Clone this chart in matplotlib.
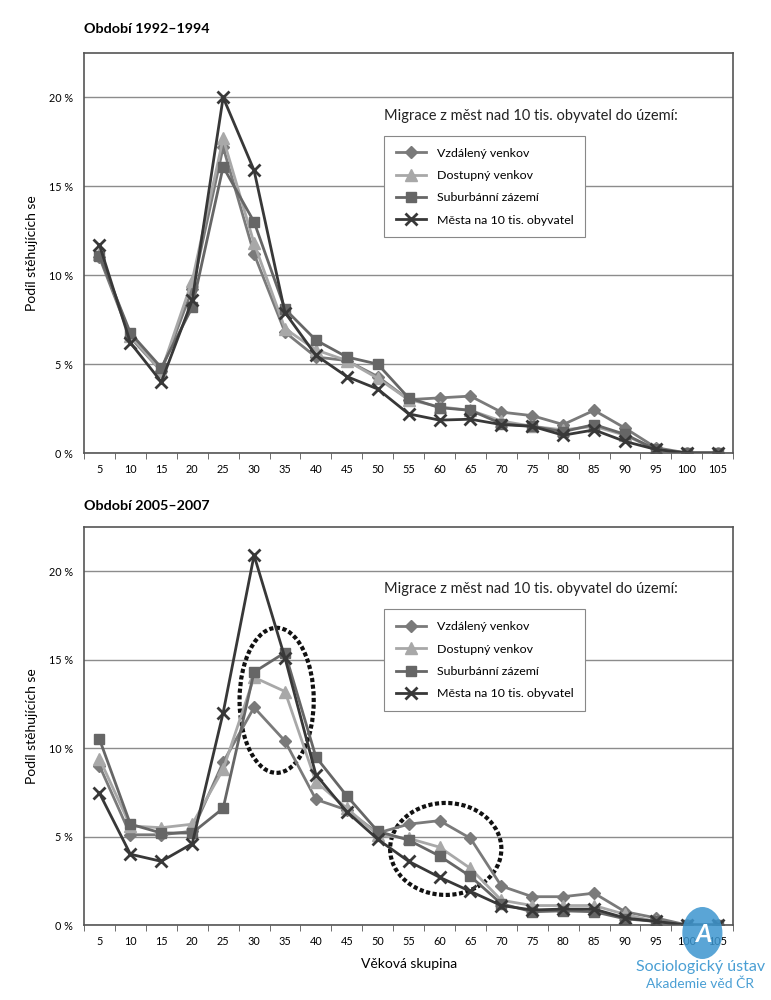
import matplotlib.pyplot as plt
from matplotlib.patches import Ellipse, Circle

plt.rcParams["font.family"] = ["Lato", "DejaVu Sans"]

age_groups = ["5", "10", "15", "20", "25", "30", "35", "40", "45", "50", "55",
              "60", "65", "70", "75", "80", "85", "90", "95", "100", "105"]

series_names = ["Vzdálený venkov", "Dostupný venkov", "Suburbánní zázemí",
                "Města na 10 tis. obyvatel"]

# Období 1992–1994 (%)
p1_vzdaleny = [11.0, 6.5, 4.6, 9.2, 17.2, 11.2, 6.8, 5.4, 5.2, 4.3, 3.0,
               3.1, 3.2, 2.3, 2.1, 1.6, 2.4, 1.4, 0.3, 0.0, 0.0]
p1_dostupny = [11.2, 6.6, 4.6, 9.7, 17.7, 11.8, 7.0, 5.8, 5.2, 4.2, 3.0,
               2.6, 2.4, 1.8, 1.5, 1.3, 1.5, 1.0, 0.2, 0.0, 0.0]
p1_suburb = [11.1, 6.75, 4.8, 8.2, 16.1, 13.0, 8.1, 6.35, 5.4, 5.0, 3.1,
             2.55, 2.4, 1.65, 1.5, 1.2, 1.6, 1.05, 0.2, 0.0, 0.0]
p1_mesta = [11.7, 6.2, 4.0, 8.6, 20.0, 15.9, 7.9, 5.5, 4.3, 3.6, 2.2,
            1.85, 1.9, 1.6, 1.5, 1.0, 1.3, 0.65, 0.2, 0.0, 0.0]

# Období 2005–2007 (%)
p2_vzdaleny = [9.0, 5.1, 5.1, 5.3, 9.2, 12.3, 10.4, 7.1, 6.5, 5.2, 5.7,
               5.9, 4.9, 2.2, 1.6, 1.6, 1.8, 0.75, 0.4, 0.0, 0.0]
p2_dostupny = [9.4, 5.6, 5.5, 5.7, 8.8, 14.0, 13.2, 8.1, 6.6, 5.1, 4.9,
               4.4, 3.2, 1.4, 1.1, 1.1, 1.1, 0.6, 0.2, 0.0, 0.0]
p2_suburb = [10.5, 5.7, 5.2, 5.2, 6.6, 14.3, 15.4, 9.5, 7.3, 5.3, 4.8,
             3.9, 2.75, 1.2, 0.75, 0.8, 0.75, 0.35, 0.2, 0.0, 0.0]
p2_mesta = [7.45, 4.0, 3.6, 4.6, 12.0, 20.9, 15.1, 8.5, 6.4, 4.85, 3.6,
            2.7, 1.9, 1.1, 0.85, 0.9, 0.9, 0.4, 0.2, 0.0, 0.0]

styles = [
    dict(color="#7a7a7a", marker="D", markersize=6.5),
    dict(color="#a8a8a8", marker="^", markersize=8),
    dict(color="#666666", marker="s", markersize=7),
    dict(color="#383838", marker="x", markersize=9, markeredgewidth=2),
]

fig = plt.figure(figsize=(7.71, 10), dpi=100)
ax1 = fig.add_axes([0.109, 0.547, 0.842, 0.400])
ax2 = fig.add_axes([0.109, 0.075, 0.842, 0.398])

x = list(range(len(age_groups)))


def draw_panel(ax, data):
    for name, vals, st in zip(series_names, data, styles):
        ax.plot(x, vals, linewidth=2, label=name, **st)
    ax.set_xlim(-0.5, len(age_groups) - 0.5)
    ax.set_ylim(0, 22.5)
    ax.set_yticks([0, 5, 10, 15, 20])
    ax.set_yticklabels(["0 %", "5 %", "10 %", "15 %", "20 %"], fontsize=7.8)
    ax.yaxis.grid(True, color="#8c8c8c", linewidth=1)
    ax.set_axisbelow(True)
    ax.set_xticks(x)
    ax.set_xticklabels(age_groups, fontsize=7.8)
    ax.set_xticks([i + 0.5 for i in range(-1, len(age_groups))], minor=True)
    ax.tick_params(axis="x", which="major", length=0, pad=8)
    ax.tick_params(axis="x", which="minor", length=4, color="#555555")
    ax.tick_params(axis="y", length=0, pad=8)
    for s in ax.spines.values():
        s.set_color("#555555")
        s.set_linewidth(1.2)
    ax.set_ylabel("Podíl stěhujících se", fontsize=10, labelpad=8)
    ax.text(0.462, 0.843, "Migrace z měst nad 10 tis. obyvatel do území:",
            transform=ax.transAxes, fontsize=10.5, va="center", ha="left",
            color="#222222")
    leg = ax.legend(loc="upper left", bbox_to_anchor=(0.4625, 0.793),
                    borderaxespad=0, fontsize=8.9, frameon=True,
                    fancybox=False, borderpad=0.95, handlelength=2.4,
                    handletextpad=0.9, labelspacing=0.92,
                    edgecolor="#888888", framealpha=1)
    leg.get_frame().set_linewidth(0.8)


draw_panel(ax1, [p1_vzdaleny, p1_dostupny, p1_suburb, p1_mesta])
draw_panel(ax2, [p2_vzdaleny, p2_dostupny, p2_suburb, p2_mesta])
ax2.set_xlabel("Věková skupina", fontsize=10, labelpad=8)

# zvýraznění v druhém období
ax2.add_patch(Ellipse((5.73, 12.7), 2.4, 8.2, fill=False, edgecolor="#111111",
                      linestyle=(0, (1, 0.6)), linewidth=3))
ax2.add_patch(Ellipse((11.2, 4.3), 3.6, 5.2, fill=False, edgecolor="#111111",
                      linestyle=(0, (1, 0.6)), linewidth=3))

fig.text(0.109, 0.967, "Období 1992–1994", fontsize=10.3, fontweight="bold")
fig.text(0.109, 0.490, "Období 2005–2007", fontsize=10.3, fontweight="bold")

# logo
circle = Circle((0.911, 0.067), 0.026, transform=fig.transFigure,
                facecolor="#3d96cf", alpha=0.85, edgecolor="none", zorder=10)
fig.patches.append(circle)
fig.text(0.913, 0.065, "A", fontsize=18, color="white", ha="center",
         va="center", fontstyle="italic", fontweight="bold", zorder=11)
fig.text(0.908, 0.033, "Sociologický ústav", fontsize=11.5, color="#4a9fd4",
         ha="center", va="center")
fig.text(0.908, 0.016, "Akademie věd ČR", fontsize=10, color="#4a9fd4",
         ha="center", va="center")

fig.savefig("out.png", dpi=100)
